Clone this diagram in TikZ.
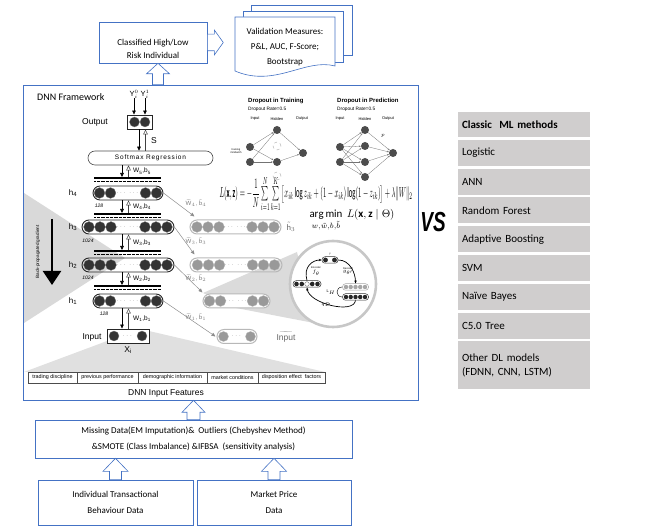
\documentclass[tikz,border=0pt]{standalone}
\usepackage{amsmath}
\usepackage{graphicx}
\usepackage{fontspec}
\setmainfont{Carlito}
\newfontfamily\arial{Liberation Sans}
\newfontfamily\spaced[LetterSpace=12]{Liberation Sans}
\usetikzlibrary{arrows.meta,calc,positioning}

\definecolor{boxblue}{RGB}{68,114,196}
\definecolor{mlgray}{RGB}{208,206,206}

% hollow block arrow: tip, base, head half width, shaft half width, head length
\newcommand{\blockup}[5]{%
  \draw[blockarr] (#1) -- ($(#1)+(#3,#5)$) -- ($(#1)+(#4,#5)$) -- ($(#2)+(#4,0)$)
    -- ($(#2)+(-#4,0)$) -- ($(#1)+(-#4,#5)$) -- ($(#1)+(-#3,#5)$) -- cycle;}

\tikzset{
  bluebox/.style={draw=boxblue, line width=0.6pt, fill=white, inner sep=0pt},
  boxtext/.style={font=\fontsize{9}{15}\selectfont, align=center},
  blockarr/.style={draw=boxblue, line width=0.6pt, fill=white},
  hlayer/.style={draw=black!85, line width=0.9pt, rounded corners=7pt, minimum height=14pt, inner sep=0pt},
  glayer/.style={draw=black!28, line width=1pt, rounded corners=7pt, minimum height=14pt, inner sep=0pt},
  neuron/.style={fill=black!80, draw=black!50, line width=0.3pt},
  gneuron/.style={fill=black!40, draw=black!28, line width=0.3pt},
  skip/.style={font=\fontsize{6}{6}\selectfont, text=black!55, inner sep=0pt},
  dnarr/.style={-{Triangle[length=4pt,width=3.6pt]}, line width=0.6pt},
  hollowarr/.style={-{Triangle[open,length=5pt,width=4.6pt]}, line width=0.5pt, draw=black!75},
  garr/.style={-{Triangle[length=4pt,width=3.4pt]}, draw=black!45, line width=0.5pt},
  arialt/.style={font=\arial\fontsize{8.5}{10}\selectfont, inner sep=0pt},
  wlab/.style={font=\arial\fontsize{6.5}{7}\selectfont, anchor=west, inner sep=0pt},
  glab/.style={font=\fontsize{6.5}{7}\selectfont, text=black!50, inner sep=0pt},
  szlab/.style={font=\arial\itshape\fontsize{5}{5}\selectfont, inner sep=0pt},
  feat/.style={draw=black!70, line width=0.4pt, fill=white, minimum height=11pt, inner sep=0pt, font=\arial\fontsize{5.4}{5.7}\selectfont},
  dnode/.style={circle, fill=black!70, minimum size=8pt, inner sep=0pt},
  dnodex/.style={circle, draw=black!35, dashed, minimum size=8pt, inner sep=0pt},
  dedge/.style={draw=black!55, line width=0.3pt, -{Stealth[length=2pt,width=1.6pt]}},
  dsmall/.style={font=\arial\fontsize{4}{4.5}\selectfont, inner sep=0pt, align=center},
  mini/.style={draw=black!80, line width=0.5pt, rounded corners=3pt, minimum height=6.5pt, inner sep=0pt},
  larr/.style={-{Stealth[length=3pt,width=2.4pt]}, line width=0.7pt},
  tinyt/.style={font=\arial\fontsize{2.6}{3}\selectfont, inner sep=0pt, align=center},
  mlrow/.style={fill=mlgray, minimum width=132pt, text width=124pt, inner xsep=4pt, inner ysep=0pt, minimum height=26pt, align=left, font=\fontsize{11}{14}\selectfont},
}

\begin{document}
\begin{tikzpicture}[x=1pt, y=-1pt]
\useasboundingbox (0,0) rectangle (664,526);

% DNN frame
\node[draw=boxblue, line width=0.6pt, minimum width=395pt, minimum height=315pt, inner sep=0pt] (dnn) at (220.5,242.5) {};
\node[font=\fontsize{10}{12}\selectfont, anchor=west, inner sep=0pt] (dnnt) at (37,97) {DNN Framework};

% grey fans
\fill[black!15] (24,193) -- (125,258) -- (24,323) -- cycle;
\fill[black!12] (107,341) -- (149,331) -- (325,372) -- (24,372) -- cycle;
\draw[line width=2.4pt, -{Triangle[length=14pt,width=18pt]}] (52,219) -- (52,285);
\node[rotate=90, font=\arial\fontsize{4.6}{5}\selectfont, inner sep=0pt] (bpg) at (38,252) {Back-propagated gradient};

% output
\node[draw=black!85, line width=0.9pt, fill=white, minimum width=25pt, minimum height=14pt] (out) at (139.5,122) {};
\foreach \x in {134.5,145} \path[neuron] (\x,122) circle (5pt);
\node[arialt] (outl) at (95,122) {Output};
\node[font=\arial\fontsize{7.5}{8}\selectfont, inner sep=0pt] (y0) at (134,94) {Y$^{\scriptscriptstyle 0}_{\scriptscriptstyle i}$};
\node[font=\arial\fontsize{7.5}{8}\selectfont, inner sep=0pt] (y1) at (145,94) {Y$^{\scriptscriptstyle 1}_{\scriptscriptstyle i}$};
\draw[dnarr] (y0.south) -- (y0.south |- out.north);
\draw[dnarr] (y1.south) -- (y1.south |- out.north);

\node[draw=black!70, line width=0.6pt, rounded corners=7pt, minimum width=125pt, minimum height=14pt, inner sep=0pt, font=\spaced\fontsize{6.5}{7}\selectfont] (sm) at (150.5,158) {Softmax Regression};
\draw[dnarr] ($(out.south)+(-0.5,0)$) -- ($(out.south |- sm.north)+(-0.5,0)$);
\draw[hollowarr] ($(out.south |- sm.north)+(6,0)$) -- ($(out.south)+(6,0)$);
\node[arialt] (slab) at (154,141) {S};

% encoder layers
\node[hlayer, minimum width=70pt] (h4) at (128,193) {};
\node[hlayer, minimum width=92pt] (h3) at (128,227) {};
\node[hlayer, minimum width=92pt] (h2) at (128,265) {};
\node[hlayer, minimum width=70pt] (h1) at (128,301) {};
\node[draw=black!85, line width=0.9pt, fill=white, minimum width=42pt, minimum height=14pt] (inp) at (128,336) {};
\foreach \x in {99.5,110.5,145.5,156.5} {
  \path[neuron] (\x,193) circle (5.4pt);
  \path[neuron] (\x,301) circle (5.4pt);
}
\foreach \x in {89,100,111,145,156,167} {
  \path[neuron] (\x,227) circle (5.4pt);
  \path[neuron] (\x,265) circle (5.4pt);
}
\foreach \x in {114,142} \path[neuron] (\x,336) circle (5pt);
\foreach \n in {h4,h3,h2,h1} \node[skip] (skip\n) at (\n) {$\cdots\;\cdots$};
\node[skip] (skipinp) at (inp) {$\cdots$};

\foreach \b in {178,214,251,286} {
  \draw[line width=2.3pt] (94,\b) -- (161,\b);
  \draw[line width=1.2pt, dash pattern=on .7pt off .6pt] (94,\b+3.6) -- (161,\b+3.6);
}
\coordinate (b5) at (128,177);
\coordinate (b4) at (128,213);
\coordinate (b3) at (128,250);
\coordinate (b2) at (128,285);
\coordinate (b1) at (inp.north);
\foreach \u/\b/\k in {sm/b5/5,h4/b4/4,h3/b3/3,h2/b2/2,h1/b1/1} {
  \draw[dnarr] ($(\b|-\u.south)+(-6,0)$) -- ($(\b)+(-6,0)$);
  \draw[hollowarr] ($(\b)+(0.5,0)$) -- ($(\b|-\u.south)+(0.5,0)$);
  \node[wlab] (w\k) at ($(\b|-\u.south)!0.5!(\b)+(5,0)$) {W\textsubscript{\k},b\textsubscript{\k}};
}

\foreach \n/\y in {4/193,3/227,2/265,1/301}
  \node[font=\arial\fontsize{8}{9}\selectfont, inner sep=0pt] (hl\n) at (73,\y) {h\textsubscript{\n}};
\node[szlab] (sz4) at (99,206) {128};
\node[szlab] (sz3) at (88,241) {1024};
\node[szlab] (sz2) at (88,278) {1024};
\node[szlab] (sz1) at (104,314) {128};
\node[arialt] (inl) at (92,337) {Input};
\node[arialt] (xi) at (128,350) {X\textsubscript{i}};

% features
\foreach \a/\b/\t [count=\i] in {28/77/trading discipline, 77/138/previous performance, 138/207/demographic information, 207/258/market conditions, 258/325/disposition effect\ \ factors}
  \node[feat, minimum width={\b-\a}] (f\i) at ({(\a+\b)/2},377.5) {\t};
\node[arialt] (feats) at (166,393) {DNN Input Features};

% lens on the denoising part
\fill[black!14] (203,293) -- (297,252) -- (314,323) -- (236,308) -- cycle;
\node[circle, draw=black!22, line width=2.6pt, fill=white, minimum size=86pt, inner sep=0pt] (lens) at (333,284) {};
\node[mini, minimum width=16pt] (ly) at (330,260) {};
\foreach \x in {325.5,334.5} \fill[black!85] (\x,260) circle (2.4pt);
\node[mini, minimum width=28pt] (lxt) at (307,284) {};
\foreach \x in {296.5,301.8,312.2,317.5} \fill[black!85] (\x,284) circle (2.3pt);
\draw[black!70, line width=0.3pt, fill=white] (307,284) circle (2.3pt);
\node[mini, minimum width=26pt, draw=black!35] (lz) at (355.5,287) {};
\node[mini, minimum width=26pt] (lx) at (355.5,297) {};
\foreach \x in {346,350.7,355.5,360.2,365} {
  \fill[black!35] (\x,287) circle (2.2pt);
  \fill[black!85] (\x,297) circle (2.2pt);
}
\draw[larr] (lxt.north) .. controls +(-4,-14) and +(-9,0) .. (ly.west);
\draw[larr] (ly.east) .. controls +(12,0) and +(0,-10) .. (lz.north);
\draw[larr] (lx.south) .. controls +(-2,14) and +(2,16) .. (lxt.south);
\draw[line width=0.4pt] (lz.west) .. controls +(-7,0) and +(-7,0) .. (lx.west);
\node[font=\arial\fontsize{4}{4}\selectfont, inner sep=0pt] (lh) at (331,292) {L$_{\scriptscriptstyle H}$};
\node[tinyt] (enc) at (316,271) {Encoder\\$f_\theta$};
\node[tinyt] (dec) at (348,271) {Decoder\\$g_{\theta'}$};
\node[tinyt] (qd) at (326,305) {$q_{\mathcal D}$};
\node[tinyt] (lyl) at (330,254) {y};
\node[tinyt] (lzl) at (356,282) {z};

% decoder layers
\node[glayer, minimum width=91pt] (d3) at (235.5,227) {};
\node[glayer, minimum width=92pt] (d2) at (236,265) {};
\node[glayer, minimum width=67pt, fill=white] (d1) at (236.5,301) {};
\node[glayer, minimum width=40pt] (d0) at (237,336.5) {};
\foreach \x in {197,208,219,252,263,274} {
  \path[gneuron] (\x,227) circle (5.4pt);
  \path[gneuron] (\x+0.5,265) circle (5.4pt);
}
\foreach \x in {209.5,220.5,252.5,263.5} \path[gneuron] (\x,301) circle (5.4pt);
\foreach \x in {223.5,250.5} \path[gneuron] (\x,336.5) circle (5pt);
\foreach \n in {d3,d2,d1} \node[skip] (skip\n) at (\n) {$\cdots\;\cdots$};
\node[skip] (skipd0) at (d0) {$\cdots$};
\node[font=\fontsize{8.5}{9}\selectfont, text=black!60, inner sep=0pt] (d3l) at (291,227) {$\tilde{\mathrm{h}}_3$};
\node[font=\arial\fontsize{8.5}{10}\selectfont, text=black!60, inner sep=0pt] (d0l) at (286,337) {$\widetilde{\mbox{\arial Input}}$};

\draw[garr] (h4.east) -- ($(d3.north west)+(5,-3)$);
\draw[garr] (h3.east) -- ($(d2.north west)+(5,-3)$);
\draw[garr] (h2.east) -- ($(d1.north west)+(0,-1)$);
\draw[garr] (h1.east) -- ($(d0.west)+(-1,0)$);
\foreach \k/\y in {4/203,3/241,2/278,1/317}
  \node[glab] (gw\k) at (196,\y) {$\widetilde{\mathrm{W}}_{\k},\tilde{\mathrm{b}}_{\k}$};

% dropout in training
\node[font=\arial\bfseries\fontsize{6}{6}\selectfont, anchor=west, inner sep=0pt] (tt) at (248,101) {Dropout in Training};
\node[font=\arial\fontsize{4.8}{5}\selectfont, anchor=west, inner sep=0pt] (tr) at (248,109) {Dropout Rate=0.5};
\node[dsmall] (tin) at (255,119) {Input};
\node[dsmall] (tih) at (277,119) {Hidden};
\node[dsmall] (tio) at (302,119) {Output};
\node[dnode] (ti1) at (250,147) {};
\node[dnode] (ti2) at (250,162) {};
\node[dnode] (th1) at (277,130) {};
\node[dnodex] (th2) at (277,146) {};
\node[dnode] (th3) at (277,162) {};
\node[dnodex] (th4) at (277,176) {};
\node[dnode] (tout) at (303,153) {};
\foreach \a in {ti1,ti2} \foreach \b in {th1,th3} \draw[dedge] (\a) -- (\b);
\foreach \a in {th1,th3} \draw[dedge] (\a) -- (tout);
\node[tinyt] (tmb) at (236,151) {training\\minibatch};

% dropout in prediction
\node[font=\arial\bfseries\fontsize{6}{6}\selectfont, anchor=west, inner sep=0pt] (pt) at (337,101) {Dropout in Prediction};
\node[font=\arial\fontsize{4.8}{5}\selectfont, anchor=west, inner sep=0pt] (pr) at (337,109) {Dropout Rate=0.5};
\node[dsmall] (pin) at (340,119) {Input};
\node[dsmall] (pih) at (365,119) {Hidden};
\node[dsmall] (pio) at (388,119) {Output};
\node[dnode] (pi1) at (340,147) {};
\node[dnode] (pi2) at (340,162) {};
\foreach \i/\y in {1/130,2/146,3/162,4/177} \node[dnode] (ph\i) at (365,\y) {};
\node[dnode] (pout) at (393,153) {};
\foreach \a in {pi1,pi2} \foreach \b in {ph1,ph2,ph3,ph4} \draw[dedge] (\a) -- (\b);
\foreach \b in {ph1,ph2,ph3,ph4} \draw[dedge] (\b) -- (pout);
\node[font=\fontsize{5}{5}\selectfont, inner sep=0pt] (pp) at (383,136) {$p$};

% loss
\node[inner sep=0pt] (loss) at (316,194) {\resizebox{193pt}{22pt}{$L(\mathbf{x},\mathbf{z})=-\dfrac{1}{N}\sum\limits_{i=1}^{N}\sum\limits_{k=1}^{K}\big[x_{ik}\log z_{ik}+(1-x_{ik})\log(1-z_{ik})\big]+\lambda\|W\|_2$}};
\node[inner sep=0pt] (amin) at (352,220) {\resizebox{85pt}{!}{$\displaystyle\operatorname*{arg\,min}_{w,\tilde{w},b,\tilde{b}}\ L(\mathbf{x},\mathbf{z}\mid\Theta)$}};

% top boxes
\node[bluebox, minimum width=108pt, minimum height=41pt] (cls) at (153,42.5) {};
\node[boxtext, font=\fontsize{9}{13}\selectfont] (clst) at (153,48.5) {Classified High/Low\\Risk Individual};
\draw[bluebox] (251,5) rectangle (352,55);
\draw[bluebox] (243,11) rectangle (343,62);
\draw[bluebox] (235,17) -- (335,17) -- (335,66) .. controls (305,58) and (275,88) .. (235,71) -- cycle;
\node[boxtext] (val) at (285,47) {Validation Measures:\\P\&L, AUC, F-Score;\\Bootstrap};
\draw[blockarr] (cls.east) ++(0,-8.3) -- ++(7,0) -- ++(0,-4.2) -- ++(9,12.5) -- ++(-9,12.5) -- ++(0,-4.2) -- ++(-7,0) -- cycle;
\coordinate (a1) at ($(cls.south)+(5,0)$);
\blockup{a1}{a1 |- dnn.north}{11.5}{5.5}{10.5}

% data boxes
\node[bluebox, boxtext, font=\fontsize{9}{16.5}\selectfont, minimum width=317pt, minimum height=38pt] (miss) at (193.5,439) {Missing Data(EM Imputation)\&\ \ Outliers (Chebyshev Method)\\\&SMOTE (Class Imbalance) \&IFBSA\ \ (sensitivity analysis)};
\node[bluebox, boxtext, font=\fontsize{9}{16.5}\selectfont, minimum width=155pt, minimum height=45pt] (lb) at (115.5,502.5) {Individual Transactional\\Behaviour Data};
\node[bluebox, boxtext, font=\fontsize{9}{16.5}\selectfont, minimum width=154pt, minimum height=45pt] (rb) at (274,502.5) {Market Price\\Data};
\blockup{miss.north |- dnn.south}{miss.north}{11.5}{6.5}{12}
\blockup{lb.north |- miss.south}{lb.north}{12.5}{6}{13}
\blockup{rb.north |- miss.south}{rb.north}{12.5}{6}{13}

% classic methods
\node[inner sep=0pt] (vs) at (433,222) {\scalebox{1}[1.45]{\arial\bfseries\itshape\fontsize{19}{19}\selectfont VS}};
\node[mlrow, minimum height=25pt, font=\bfseries\fontsize{11}{14}\selectfont] (ml0) at (524,124.5) {Classic\ \ ML methods};
\foreach \t [count=\i, remember=\i as \j (initially 0)] in {Logistic, ANN, Random Forest, Adaptive Boosting, SVM, Naïve Bayes, C5.0 Tree}
  \node[mlrow, below=2.4pt of ml\j] (ml\i) {\t};
\node[mlrow, minimum height=48pt, below=2.4pt of ml7] (ml8) {Other DL models\\(FDNN, CNN, LSTM)};
\end{tikzpicture}
\end{document}
